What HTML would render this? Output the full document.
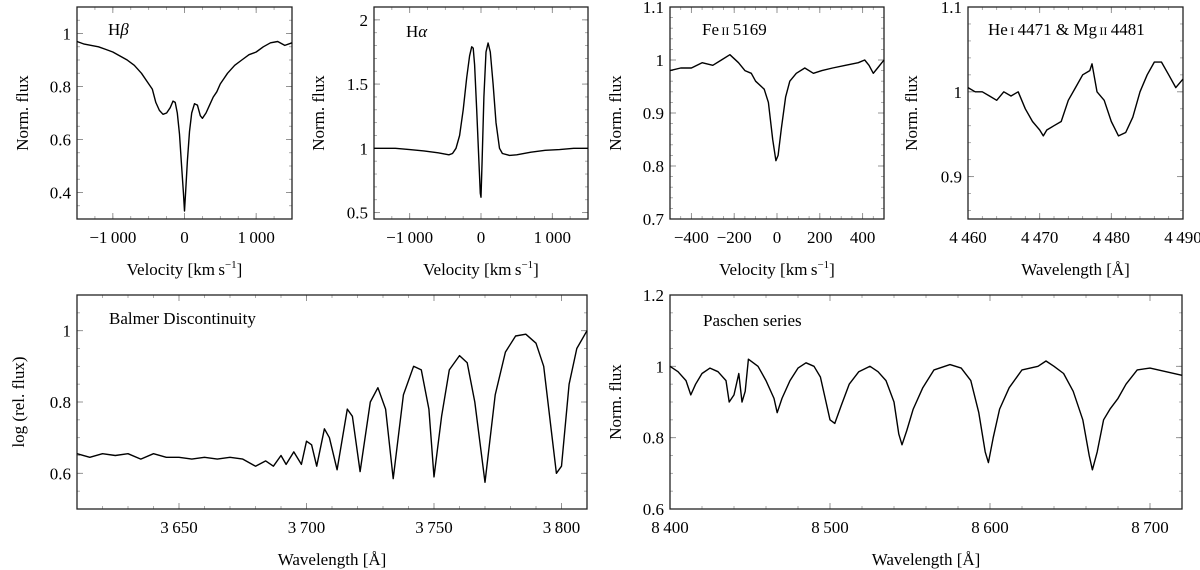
<!DOCTYPE html>
<html><head><meta charset="utf-8"><style>
html,body{margin:0;padding:0;background:#fff;}
svg{display:block;}
text{font-family:"Liberation Serif","DejaVu Serif","Times New Roman",serif;}
</style></head><body>
<svg id="fig" width="1200" height="570" viewBox="0 0 1200 570" xmlns="http://www.w3.org/2000/svg" font-family="Liberation Serif, DejaVu Serif, serif"></svg>
<script>
// ---- data ----
const hbVel=[-1500,-1400,-1300,-1200,-1100,-1000,-900,-800,-700,-600,-500,-450,-400,-350,-300,-250,-200,-160,-130,-100,-70,-40,-15,0,15,40,70,100,140,180,220,250,300,350,400,450,500,550,600,700,800,900,1000,1100,1200,1300,1400,1500];
const hbFlux=[0.97,0.96,0.955,0.95,0.94,0.93,0.915,0.9,0.88,0.85,0.81,0.79,0.74,0.71,0.695,0.70,0.72,0.745,0.74,0.70,0.62,0.50,0.40,0.33,0.40,0.52,0.63,0.70,0.735,0.73,0.69,0.68,0.70,0.73,0.76,0.78,0.81,0.83,0.85,0.88,0.90,0.92,0.93,0.95,0.965,0.97,0.955,0.965];
const haVel=[-1500,-1200,-1000,-800,-600,-450,-400,-350,-300,-250,-200,-160,-130,-110,-90,-60,-30,-10,0,15,40,70,100,130,170,210,260,300,400,500,700,900,1100,1300,1500];
const haFlux=[1.0,1.0,0.99,0.98,0.965,0.95,0.96,1.0,1.1,1.3,1.55,1.72,1.79,1.78,1.65,1.3,0.9,0.65,0.62,0.9,1.4,1.75,1.82,1.75,1.5,1.2,1.0,0.96,0.945,0.95,0.97,0.985,0.99,1.0,1.0];
const feVel=[-500,-450,-400,-350,-300,-260,-220,-180,-150,-120,-100,-60,-40,-20,-5,5,20,40,60,90,130,170,210,260,320,380,410,430,450,470,500];
const feFlux=[0.98,0.985,0.985,0.995,0.99,1.0,1.01,0.995,0.98,0.975,0.96,0.945,0.92,0.85,0.81,0.82,0.87,0.93,0.96,0.975,0.985,0.975,0.98,0.985,0.99,0.995,1.0,0.99,0.975,0.985,1.0];
const heWave=[4460,4461,4462,4463,4464,4465,4466,4467,4468,4469,4470,4470.5,4471,4472,4473,4474,4475,4476,4477,4477.3,4478,4479,4480,4481,4482,4483,4484,4485,4486,4487,4488,4489,4490];
const heFlux=[1.005,1.0,1.0,0.995,0.99,1.0,0.995,1.0,0.98,0.965,0.955,0.948,0.955,0.96,0.965,0.99,1.005,1.02,1.025,1.033,1.0,0.99,0.965,0.948,0.952,0.97,1.0,1.02,1.035,1.035,1.02,1.005,1.015];
const baWave=[3610,3615,3620,3625,3630,3635,3640,3645,3650,3655,3660,3665,3670,3675,3680,3684,3687,3690,3692,3695,3698,3700,3702,3704,3707,3709,3712,3716,3718,3721,3725,3728,3731,3734,3738,3742,3745,3748,3750,3753,3756,3760,3763,3766,3770,3774,3778,3782,3786,3790,3793,3796,3798,3800,3803,3806,3810];
const baFlux=[0.655,0.645,0.655,0.65,0.655,0.64,0.655,0.645,0.645,0.64,0.645,0.64,0.645,0.64,0.62,0.635,0.62,0.65,0.625,0.66,0.625,0.69,0.68,0.62,0.725,0.70,0.61,0.78,0.76,0.605,0.80,0.84,0.78,0.585,0.82,0.90,0.89,0.78,0.59,0.76,0.89,0.93,0.91,0.80,0.575,0.82,0.94,0.985,0.99,0.965,0.90,0.72,0.60,0.62,0.85,0.95,1.0];
const paWave=[8400,8405,8410,8413,8416,8420,8425,8430,8435,8437,8440,8443,8445,8447,8449,8455,8460,8465,8467,8470,8475,8480,8485,8490,8494,8497,8500,8503,8507,8512,8518,8525,8530,8535,8540,8543,8545,8548,8552,8558,8565,8575,8582,8588,8593,8597,8599,8602,8606,8612,8620,8630,8635,8640,8646,8652,8658,8662,8664,8667,8671,8675,8680,8685,8692,8700,8710,8720];
const paFlux=[1.0,0.985,0.96,0.92,0.95,0.98,0.995,0.985,0.96,0.90,0.92,0.98,0.90,0.93,1.02,1.0,0.96,0.91,0.87,0.91,0.96,0.995,1.01,1.0,0.97,0.91,0.85,0.84,0.89,0.95,0.985,1.0,0.985,0.96,0.90,0.81,0.78,0.82,0.88,0.94,0.99,1.005,0.995,0.96,0.87,0.76,0.73,0.80,0.88,0.94,0.99,1.0,1.015,1.0,0.98,0.93,0.85,0.75,0.71,0.76,0.85,0.88,0.91,0.95,0.99,0.995,0.985,0.975];
// tick labels
const hbYTicks=[0.4,0.6,0.8,1], velXTicks=[-1000,0,1000];
const haYTicks=[0.5,1,1.5,2];
const feYTicks=[0.7,0.8,0.9,1,1.1], feXTicks=[-400,-200,0,200,400];
const heYTicks=[0.9,1,1.1], heXTicks=[4460,4470,4480,4490];
const baYTicks=[0.6,0.8,1], baXTicks=[3650,3700,3750,3800];
const paYTicks=[0.6,0.8,1,1.2], paXTicks=[8400,8500,8600,8700];

const NS="http://www.w3.org/2000/svg";
const FONT='Liberation Serif, DejaVu Serif, serif';
const svg=document.getElementById('fig');
function el(tag,attrs,parent){const e=document.createElementNS(NS,tag);for(const k in attrs)e.setAttribute(k,attrs[k]);if(tag==='text')e.setAttribute('font-family',FONT);(parent||svg).appendChild(e);return e;}
function fmt(v){let s=String(v);if(Math.abs(v)>=1000){const n=Math.abs(v);s=(v<0?'\u2212':'')+Math.floor(n/1000)+'\u2009'+String(n%1000).padStart(3,'0');}else if(v<0)s='\u2212'+Math.abs(v);return s;}

function panel(p){
  const g=el('g',{});
  
  
  const sx=v=>p.x0+(v-p.xmin)/(p.xmax-p.xmin)*(p.x1-p.x0);
  const sy=v=>p.y1-(v-p.ymin)/(p.ymax-p.ymin)*(p.y1-p.y0);
  for(let v=Math.ceil(p.xmin/p.xminor)*p.xminor;v<=p.xmax+1e-9;v+=p.xminor){const X=sx(v);
    el('line',{x1:X,x2:X,y1:p.y1,y2:p.y1-3,stroke:'#999','stroke-width':0.8},g);
    el('line',{x1:X,x2:X,y1:p.y0,y2:p.y0+3,stroke:'#999','stroke-width':0.8},g);}
  for(let v=Math.ceil(p.ymin/p.yminor-1e-9)*p.yminor;v<=p.ymax+1e-9;v+=p.yminor){const Y=sy(v);
    el('line',{x1:p.x0,x2:p.x0+3,y1:Y,y2:Y,stroke:'#999','stroke-width':0.8},g);
    el('line',{x1:p.x1,x2:p.x1-3,y1:Y,y2:Y,stroke:'#999','stroke-width':0.8},g);}
  p.xt.forEach(v=>{const X=sx(v);
    el('line',{x1:X,x2:X,y1:p.y1,y2:p.y1-6,stroke:'#888','stroke-width':0.9},g);
    el('line',{x1:X,x2:X,y1:p.y0,y2:p.y0+6,stroke:'#888','stroke-width':0.9},g);
    const t=el('text',{x:X,y:p.y1+24,'text-anchor':'middle','font-size':17},g);t.textContent=fmt(v);
    
    });
  p.yt.forEach(v=>{const Y=sy(v);
    el('line',{x1:p.x0,x2:p.x0+6,y1:Y,y2:Y,stroke:'#888','stroke-width':0.9},g);
    el('line',{x1:p.x1,x2:p.x1-6,y1:Y,y2:Y,stroke:'#888','stroke-width':0.9},g);
    const t=el('text',{x:p.x0-6,y:Y+6,'text-anchor':'end','font-size':17},g);t.textContent=fmt(v);
    
    });
  el('rect',{x:p.x0,y:p.y0,width:p.x1-p.x0,height:p.y1-p.y0,fill:'none',stroke:'#222','stroke-width':1.3},g);
  const d=p.xs.map((v,i)=>(i?'L':'M')+sx(v).toFixed(1)+' '+sy(p.ys[i]).toFixed(1)).join(' ');
  const path=el('path',{d:d,fill:'none',stroke:'#000','stroke-width':1.4,'stroke-linejoin':'round'},g);
  
  
  const xt=el('text',{x:(p.x0+p.x1)/2,y:p.y1+56,'text-anchor':'middle','font-size':17},g);xt.innerHTML=p.xlabel;
  
  
  const yx=p.ytx, yy=(p.y0+p.y1)/2;
  const yt=el('text',{x:yx,y:yy,'text-anchor':'middle','font-size':17,transform:`rotate(-90 ${yx} ${yy})`},g);yt.textContent=p.ylabel;
  
  
  const lb=el('text',{x:p.lx,y:p.ly,'font-size':17},g);lb.innerHTML=p.label;
  
  
}
const VEL='Velocity [km\u2009s<tspan font-size="11" dy="-7">\u22121</tspan><tspan dy="7">]</tspan>';
const WL='Wavelength [Å]';
panel({name:'hbeta-panel',x0:77,x1:292,y0:7,y1:219,xmin:-1500,xmax:1500,ymin:0.3,ymax:1.1,xminor:250,yminor:0.05,xt:velXTicks,yt:hbYTicks,xs:hbVel,ys:hbFlux,xlabel:VEL,ylabel:'Norm. flux',ytx:28,label:'H<tspan font-style="italic">β</tspan>',lx:108,ly:35});
panel({name:'halpha-panel',x0:374,x1:588,y0:7,y1:219,xmin:-1500,xmax:1500,ymin:0.45,ymax:2.1,xminor:250,yminor:0.1,xt:velXTicks,yt:haYTicks,xs:haVel,ys:haFlux,xlabel:VEL,ylabel:'Norm. flux',ytx:324,label:'H<tspan font-style="italic">α</tspan>',lx:406,ly:37});
panel({name:'feii-panel',x0:670,x1:884,y0:7,y1:219,xmin:-500,xmax:500,ymin:0.7,ymax:1.1,xminor:50,yminor:0.02,xt:feXTicks,yt:feYTicks,xs:feVel,ys:feFlux,xlabel:VEL,ylabel:'Norm. flux',ytx:621,label:'Fe<tspan font-size="12">\u2009II</tspan>\u20095169',lx:702,ly:35});
panel({name:'hei-mgii-panel',x0:968,x1:1183,y0:7,y1:219,xmin:4460,xmax:4490,ymin:0.85,ymax:1.1,xminor:2,yminor:0.02,xt:heXTicks,yt:heYTicks,xs:heWave,ys:heFlux,xlabel:WL,ylabel:'Norm. flux',ytx:917,label:'He<tspan font-size="12">\u2009I</tspan>\u20094471 &amp; Mg<tspan font-size="12">\u2009II</tspan>\u20094481',lx:988,ly:35});
panel({name:'balmer-panel',x0:77,x1:587,y0:295,y1:509,xmin:3610,xmax:3810,ymin:0.5,ymax:1.1,xminor:10,yminor:0.05,xt:baXTicks,yt:baYTicks,xs:baWave,ys:baFlux,xlabel:WL,ylabel:'log (rel. flux)',ytx:24,label:'Balmer Discontinuity',lx:109,ly:324});
panel({name:'paschen-panel',x0:670,x1:1182,y0:295,y1:509,xmin:8400,xmax:8720,ymin:0.6,ymax:1.2,xminor:20,yminor:0.05,xt:paXTicks,yt:paYTicks,xs:paWave,ys:paFlux,xlabel:WL,ylabel:'Norm. flux',ytx:621,label:'Paschen series',lx:703,ly:326});
</script>
</body></html>
